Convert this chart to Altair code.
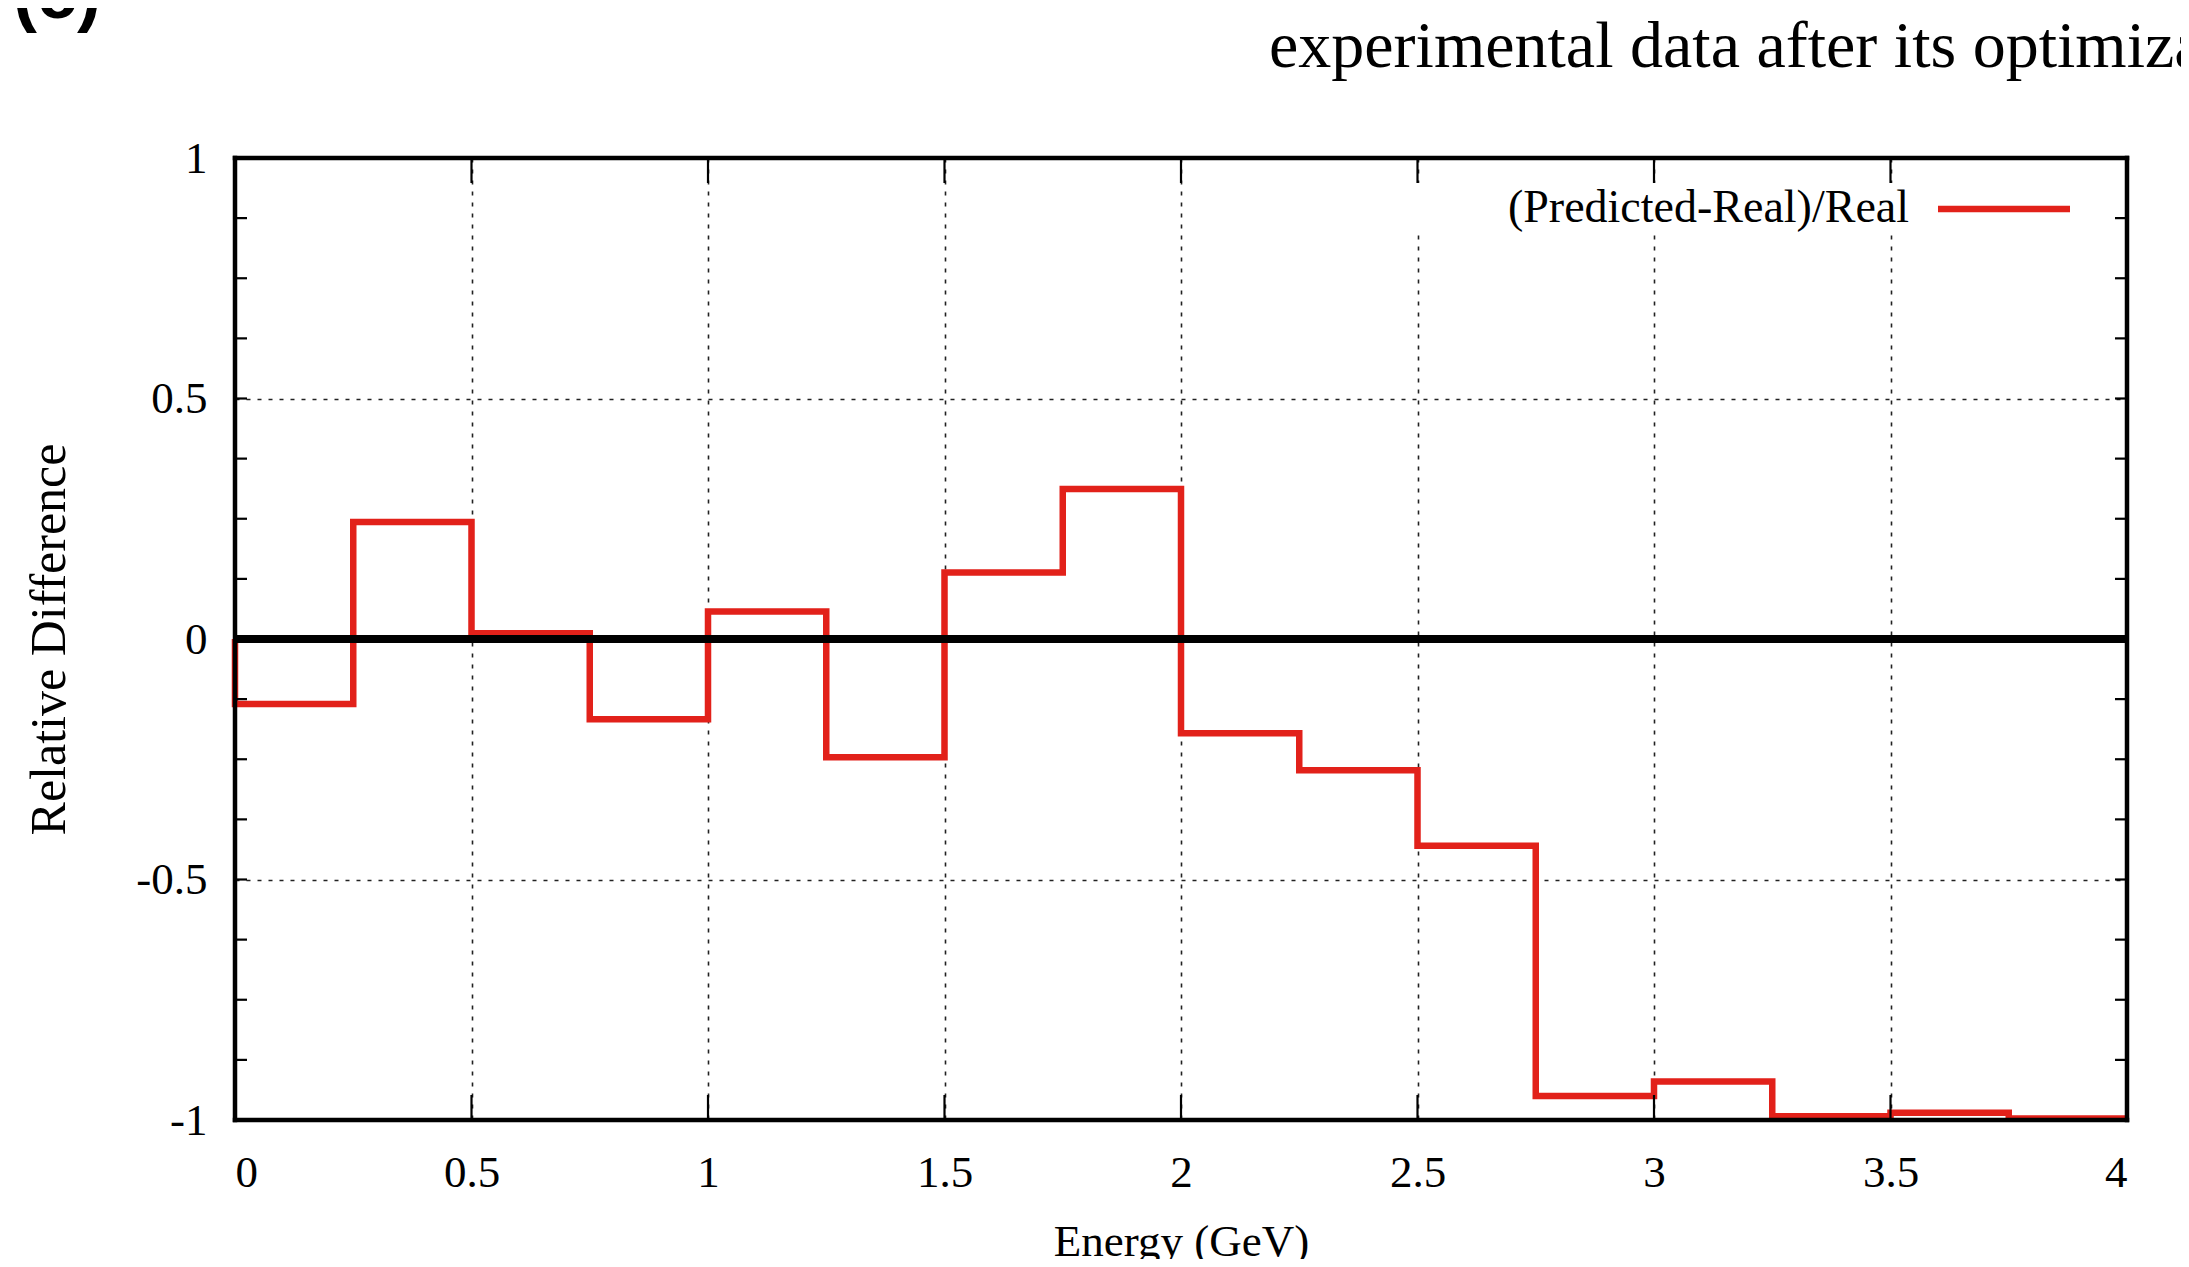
import altair as alt
import pandas as pd

# ---- data ----
bin_edges = [0.0, 0.25, 0.5, 0.75, 1.0, 1.25, 1.5, 1.75, 2.0, 2.25, 2.5, 2.75, 3.0, 3.25, 3.5, 3.75, 4.0]
rel_diff = [-0.135, 0.243, 0.012, -0.167, 0.057, -0.246, 0.138, 0.312,
            -0.196, -0.273, -0.430, -0.950, -0.920, -0.992, -0.985, -0.997]
x_ticks = [0, 0.5, 1, 1.5, 2, 2.5, 3, 3.5, 4]
y_ticks = [-1, -0.5, 0, 0.5, 1]
y_minor = [-1, -0.875, -0.75, -0.625, -0.5, -0.375, -0.25, -0.125, 0,
           0.125, 0.25, 0.375, 0.5, 0.625, 0.75, 0.875, 1]
legend_label = "(Predicted-Real)/Real"
x_title = "Energy (GeV)"
y_title = "Relative Difference"
top_text = "experimental data after its optimization"
panel_tag = "(c)"

W, H = 1892, 962
RED = "#e2211a"
SERIF = "Liberation Serif"

# step line points (histogram steps starting from zero baseline)
pts = [{"E": bin_edges[0], "D": 0.0, "o": 0}]
for i, v in enumerate(rel_diff):
    pts.append({"E": bin_edges[i], "D": v, "o": i + 1})
pts.append({"E": bin_edges[-1], "D": rel_diff[-1], "o": len(rel_diff) + 1})
step_df = pd.DataFrame(pts)

xs = alt.Scale(domain=[0, 4], nice=False, zero=False)
ys = alt.Scale(domain=[-1, 1], nice=False, zero=False)

one = pd.DataFrame({"k": [0]})

axes = alt.Chart(step_df).mark_line(opacity=0).encode(
    x=alt.X("E:Q", scale=xs,
            axis=alt.Axis(values=x_ticks, title=x_title, labelExpr="'' + datum.value",
                          titleY=121, titleBaseline="middle")),
    y=alt.Y("D:Q", scale=ys,
            axis=alt.Axis(values=y_ticks, title=y_title, labelExpr="'' + datum.value",
                          titleX=-186, titleY=H / 2, titleAngle=270, titleAlign="center",
                          titleBaseline="middle", titleFontSize=50)),
    order="o:Q",
)

# white box behind legend (interrupts grid)
legend_bg = alt.Chart(one).mark_rect(color="white").encode(
    x=alt.value(1150), x2=alt.value(1870), y=alt.value(25), y2=alt.value(74)
)

step_line = alt.Chart(step_df).mark_line(
    interpolate="step-after", color=RED, strokeWidth=6.5, strokeCap="butt", strokeJoin="miter"
).encode(
    x=alt.X("E:Q", scale=xs),
    y=alt.Y("D:Q", scale=ys),
    order="o:Q",
)

zero_df = pd.DataFrame({"x0": [0], "x1": [4], "y0": [0]})
zero_line = alt.Chart(zero_df).mark_rule(color="black", strokeWidth=8).encode(
    x=alt.X("x0:Q", scale=xs), x2="x1:Q", y=alt.Y("y0:Q", scale=ys)
)

frame_df = pd.DataFrame({
    "x0": [0, 0, 0, 4], "x1": [4, 4, 0, 4],
    "y0": [1, -1, -1, -1], "y1": [1, -1, 1, 1],
})
frame = alt.Chart(frame_df).mark_rule(color="black", strokeWidth=4.5, strokeCap="square").encode(
    x=alt.X("x0:Q", scale=xs), x2="x1:Q", y=alt.Y("y0:Q", scale=ys), y2="y1:Q"
)

ymin_df = pd.DataFrame({"v": y_minor})
yt_left = alt.Chart(ymin_df).mark_rule(color="black", strokeWidth=2.2).encode(
    y=alt.Y("v:Q", scale=ys), x=alt.value(0), x2=alt.value(12)
)
yt_right = alt.Chart(ymin_df).mark_rule(color="black", strokeWidth=2.2).encode(
    y=alt.Y("v:Q", scale=ys), x=alt.value(W - 12), x2=alt.value(W)
)
xt_df = pd.DataFrame({"v": x_ticks})
xt_bot = alt.Chart(xt_df).mark_rule(color="black", strokeWidth=2.2).encode(
    x=alt.X("v:Q", scale=xs), y=alt.value(H - 25), y2=alt.value(H)
)
xt_top = alt.Chart(xt_df).mark_rule(color="black", strokeWidth=2.2).encode(
    x=alt.X("v:Q", scale=xs), y=alt.value(0), y2=alt.value(25)
)

leg_text = alt.Chart(pd.DataFrame({"t": [legend_label]})).mark_text(
    font=SERIF, fontSize=46, color="black", align="right", baseline="middle"
).encode(text="t:N", x=alt.value(1674), y=alt.value(50))
leg_line = alt.Chart(one).mark_rule(color=RED, strokeWidth=6.5).encode(
    x=alt.value(1703), x2=alt.value(1835), y=alt.value(51)
)

top_txt = alt.Chart(pd.DataFrame({"t": [top_text]})).mark_text(
    font=SERIF, fontSize=66, color="black", align="left", baseline="alphabetic"
).encode(text="t:N", x=alt.value(1034), y=alt.value(-91))
tag_txt = alt.Chart(pd.DataFrame({"t": [panel_tag]})).mark_text(
    font="Liberation Sans", fontSize=72, fontWeight="bold", color="black",
    align="left", baseline="alphabetic"
).encode(text="t:N", x=alt.value(-222), y=alt.value(-140))

chart = alt.layer(
    axes, legend_bg, step_line,
    zero_line, frame, yt_left, yt_right, xt_bot, xt_top,
    leg_text, leg_line, top_txt, tag_txt,
).properties(
    width=W, height=H,
    autosize=alt.AutoSizeParams(type="none"),
    padding={"left": 227, "top": 150, "right": 54, "bottom": 139},
    background="white",
).configure_view(stroke=None).configure_axis(
    domain=False, ticks=False,
    labelFont=SERIF, labelFontSize=45, labelColor="black",
    titleFont=SERIF, titleFontSize=45, titleFontWeight="normal", titleColor="black",
    grid=True, gridColor="#222222", gridDash=[4, 7], gridWidth=1.6, gridOpacity=1,
).configure_axisX(labelPadding=30).configure_axisY(labelPadding=28)

chart.save("out.html", embed_options={"renderer": "svg", "actions": False})
